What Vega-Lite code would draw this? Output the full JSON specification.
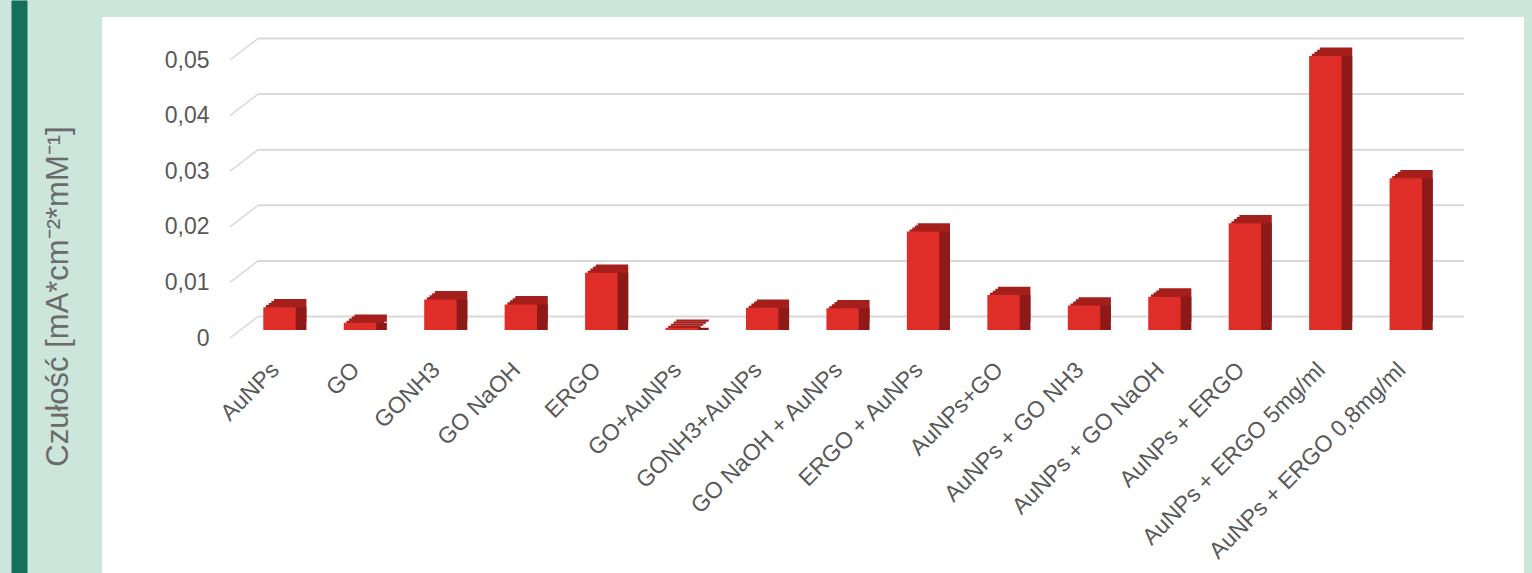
{
  "$schema": "https://vega.github.io/schema/vega-lite/v6.json",
  "width": 1422,
  "height": 556,
  "autosize": {"type": "none"},
  "padding": {"left": 102, "top": 17, "right": 8, "bottom": 0},
  "background": "#cce6db",
  "config": {"view": {"fill": "#ffffff", "stroke": null}, "font": "Liberation Sans"},
  "datasets": {
    "bars": [
      {"cat": "AuNPs", "v": 0.0041},
      {"cat": "GO", "v": 0.0013},
      {"cat": "GONH3", "v": 0.0055},
      {"cat": "GO NaOH", "v": 0.0046},
      {"cat": "ERGO", "v": 0.0103},
      {"cat": "GO+AuNPs", "v": 0.0004},
      {"cat": "GONH3+AuNPs", "v": 0.0040},
      {"cat": "GO NaOH + AuNPs", "v": 0.0039},
      {"cat": "ERGO + AuNPs", "v": 0.0177},
      {"cat": "AuNPs+GO", "v": 0.0063},
      {"cat": "AuNPs + GO NH3", "v": 0.0044},
      {"cat": "AuNPs + GO NaOH", "v": 0.0060},
      {"cat": "AuNPs + ERGO", "v": 0.0192},
      {"cat": "AuNPs + ERGO 5mg/ml", "v": 0.0493},
      {"cat": "AuNPs + ERGO 0,8mg/ml", "v": 0.0273}
    ],
    "grid": [{"v": 0}, {"v": 0.01}, {"v": 0.02}, {"v": 0.03}, {"v": 0.04}, {"v": 0.05}]
  },
  "resolve": {"axis": {"x": "independent", "y": "independent"}},
  "layer": [
    {
      "data": {"name": "grid"},
      "mark": {"type": "rule", "color": "#d9d9d9", "strokeWidth": 2, "xOffset": -21.5, "x2Offset": 58.2},
      "encoding": {
        "x": {"datum": "AuNPs", "type": "nominal",
          "axis": {"orient": "top", "offset": 17, "values": ["AuNPs"], "labels": false, "domain": false, "grid": false, "ticks": true, "tickColor": "#14705a", "tickWidth": 16, "tickSize": -600, "tickOffset": -260.5, "title": null}},
        "x2": {"datum": "AuNPs + ERGO 0,8mg/ml"},
        "y": {"field": "v", "type": "quantitative", "axis": null, "scale": {"domain": [-0.046133, 0.053867], "nice": false}}
      }
    },
    {
      "data": {"name": "grid"},
      "mark": {"type": "rule", "color": "#d9d9d9", "strokeWidth": 1.5, "xOffset": -49.5, "x2Offset": -21.5, "yOffset": 21.5, "y2Offset": 0},
      "encoding": {
        "x": {"datum": "AuNPs", "type": "nominal", "axis": null},
        "x2": {"datum": "AuNPs"},
        "y": {"field": "v", "type": "quantitative", "axis": null, "scale": {"domain": [-0.046133, 0.053867], "nice": false}},
        "y2": {"field": "v"}
      }
    },
    {
      "data": {"name": "bars"},
      "mark": {"type": "bar", "color": "#a51f1d", "xOffset": 10.7, "yOffset": 5.2, "y2Offset": 5.2},
      "encoding": {
        "x": {"field": "cat", "type": "nominal", "axis": null},
        "y": {"field": "v", "type": "quantitative", "axis": null, "scale": {"domain": [-0.046133, 0.053867], "nice": false}}
      }
    },
    {
      "data": {"name": "bars"},
      "mark": {"type": "bar", "color": "#a51f1d", "xOffset": 8.0, "yOffset": 7.3, "y2Offset": 7.3},
      "encoding": {
        "x": {"field": "cat", "type": "nominal", "axis": null},
        "y": {"field": "v", "type": "quantitative", "axis": null, "scale": {"domain": [-0.046133, 0.053867], "nice": false}}
      }
    },
    {
      "data": {"name": "bars"},
      "mark": {"type": "bar", "color": "#a51f1d", "xOffset": 5.35, "yOffset": 9.35, "y2Offset": 9.35},
      "encoding": {
        "x": {"field": "cat", "type": "nominal", "axis": null},
        "y": {"field": "v", "type": "quantitative", "axis": null, "scale": {"domain": [-0.046133, 0.053867], "nice": false}}
      }
    },
    {
      "data": {"name": "bars"},
      "mark": {"type": "bar", "color": "#a51f1d", "xOffset": 2.7, "yOffset": 11.4, "y2Offset": 11.4},
      "encoding": {
        "x": {"field": "cat", "type": "nominal", "axis": null},
        "y": {"field": "v", "type": "quantitative", "axis": null, "scale": {"domain": [-0.046133, 0.053867], "nice": false}}
      }
    },
    {
      "data": {"name": "bars"},
      "mark": {"type": "bar", "color": "#8d1a18", "xOffset": 10.7, "yOffset": 13.5, "y2Offset": 13.5},
      "encoding": {
        "x": {"field": "cat", "type": "nominal", "axis": null},
        "y": {"field": "v", "type": "quantitative", "axis": null, "scale": {"domain": [-0.046133, 0.053867], "nice": false}}
      }
    },
    {
      "data": {"name": "bars"},
      "mark": {"type": "bar", "color": "#df2d27", "yOffset": 13.5, "y2Offset": 13.5},
      "encoding": {
        "x": {
          "field": "cat", "type": "nominal",
          "scale": {
            "domain": ["AuNPs", "GO", "GONH3", "GO NaOH", "ERGO", "GO+AuNPs", "GONH3+AuNPs", "GO NaOH + AuNPs", "ERGO + AuNPs", "AuNPs+GO", "AuNPs + GO NH3", "AuNPs + GO NaOH", "AuNPs + ERGO", "AuNPs + ERGO 5mg/ml", "AuNPs + ERGO 0,8mg/ml"],
            "range": [161.3, 1320.0],
            "paddingInner": 0.597, "paddingOuter": 0, "align": 0.5, "round": false
          },
          "axis": {
            "orient": "bottom", "offset": -207, "labelAngle": -45, "labelAlign": "right", "labelBaseline": "middle",
            "labelPadding": 0, "ticks": false, "tickSize": 0, "domain": false, "grid": false,
            "labelFontSize": 23, "labelColor": "#595959", "labelFont": "Liberation Sans", "labelOffset": -4,
            "labelOverlap": false, "labelBound": false, "labelFlush": false, "labelLimit": 0, "title": null
          }
        },
        "y": {
          "field": "v", "type": "quantitative",
          "scale": {"domain": [-0.046133, 0.053867], "nice": false},
          "axis": {
            "values": [0, 0.01, 0.02, 0.03, 0.04, 0.05],
            "labelExpr": "datum.value == 0 ? '0' : replace(format(datum.value, '.2f'), '.', ',')",
            "grid": false, "ticks": false, "tickSize": 0, "domain": false,
            "labelPadding": -107, "labelOffset": 21.5, "labelAlign": "right", "labelBaseline": "middle",
            "labelFontSize": 23, "labelColor": "#595959", "labelFont": "Liberation Sans",
            "labelBound": false, "labelOverlap": false, "labelFlush": false,
            "title": "Czułość [mA*cm⁻²*mM⁻¹]",
            "titleFont": "Liberation Sans", "titleFontSize": 31, "titleFontWeight": "normal", "titleColor": "#6b6b6b",
            "titleX": -44, "titleY": 279, "titleAngle": 270, "titleAlign": "center", "titleBaseline": "middle"
          }
        }
      }
    }
  ]
}
